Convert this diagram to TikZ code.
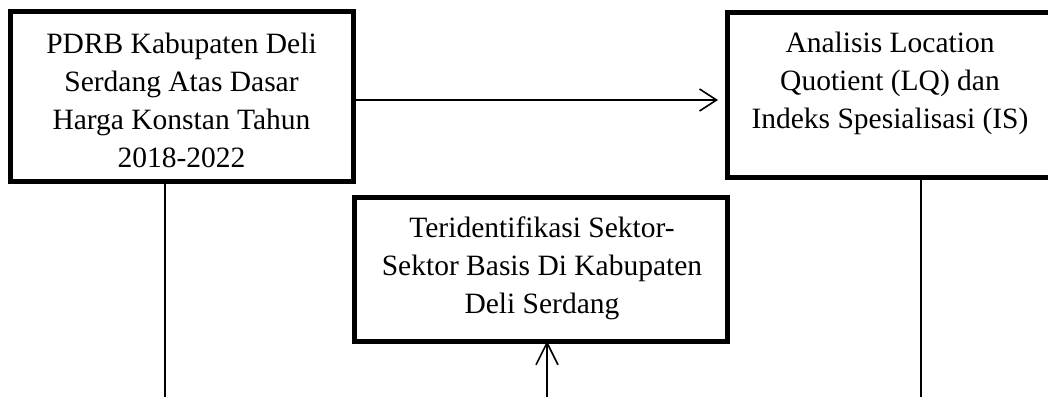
\documentclass[tikz,border=0pt]{standalone}
\usepackage{fontspec}
\setmainfont{Liberation Serif}
\usetikzlibrary{arrows.meta}
\begin{document}
\begin{tikzpicture}[x=1pt,y=-1pt,
  box/.style={draw=black,line width=5pt,rectangle,inner sep=0pt,outer sep=0pt},
  txt/.style={align=center,inner sep=0pt,font=\fontsize{29.5}{38}\selectfont,anchor=base},
  conn/.style={draw=black,line width=1.6pt},
  arr/.style={conn,-{Straight Barb[length=17pt,width=22pt,line width=1.6pt]}},
  uparr/.style={conn,-{Straight Barb[length=22pt,width=22pt,line width=1.6pt]}}]
\useasboundingbox (0,0) rectangle (1048,396);
\fill[white] (0,0) rectangle (1048,396);
% boxes
\node[box,minimum width=343pt,minimum height=169pt] (b1) at (181.5,96.5) {};
\node[box,minimum width=330pt,minimum height=165pt] (b2) at (892,95) {};
\node[box,minimum width=373pt,minimum height=144pt] (b3) at (540.5,269) {};
% texts (anchored at the baseline of the last line)
\node[txt] (t1) at (181.5,167) {PDRB Kabupaten Deli\\Serdang Atas Dasar\\Harga Konstan Tahun\\2018-2022};
\node[txt] (t2) at (890,128) {Analisis Location\\Quotient (LQ) dan\\Indeks Spesialisasi (IS)};
\node[txt] (t3) at (542,313) {Teridentifikasi Sektor-\\Sektor Basis Di Kabupaten\\Deli Serdang};
% free ends
\coordinate (e1) at (165,400);
\coordinate (e2) at (921,400);
\coordinate (e3) at (547,400);
% connectors
\draw[arr,shorten >=9pt] ([yshift=-3.5pt]b1.east) -- ([yshift=-3.5pt]b1.east -| b2.west);
\draw[conn] (b1.south -| e1) -- (e1);
\draw[conn] (b2.south -| e2) -- (e2);
\draw[uparr] (e3) -- (e3 |- b3.south);
\end{tikzpicture}
\end{document}
